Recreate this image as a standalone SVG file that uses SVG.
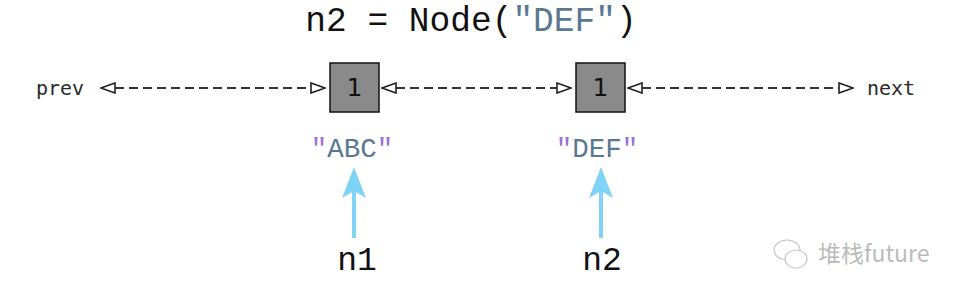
<svg xmlns="http://www.w3.org/2000/svg" width="964" height="298" viewBox="0 0 964 298">
<defs>
<style>
.mono{font-family:"Liberation Mono","Courier New",monospace}
.smono{font-family:"DejaVu Sans Mono",monospace;font-size:20px;fill:#2a2a2a}
.str{fill:#5b7892}
.q{fill:#9a6fd8}
.box{fill:#8a8a8a;stroke:#111;stroke-width:1.5}
.num{font-family:"DejaVu Sans",sans-serif;font-size:25px;fill:#111;text-anchor:middle}
.dash{stroke:#333;stroke-width:2;stroke-dasharray:9 5;fill:none;marker-start:url(#hs);marker-end:url(#he)}
</style>
<marker id="he" viewBox="0 0 16 12" refX="15" refY="6" markerWidth="16" markerHeight="12" markerUnits="userSpaceOnUse" orient="auto">
<path d="M1,1 L15,6 L1,11 Z" fill="#fff" stroke="#222" stroke-width="1.6"/>
</marker>
<marker id="hs" viewBox="0 0 16 12" refX="1" refY="6" markerWidth="16" markerHeight="12" markerUnits="userSpaceOnUse" orient="auto">
<path d="M15,1 L1,6 L15,11 Z" fill="#fff" stroke="#222" stroke-width="1.6"/>
</marker>
</defs>
<rect width="964" height="298" fill="#fff"/>
<g id="title">
<text x="471" y="31" class="mono" font-size="34.5" text-anchor="middle" fill="#111">n2 = Node(<tspan class="str">"DEF"</tspan>)</text>
</g>
<g id="connectors">
<line class="dash" x1="101" y1="88" x2="325" y2="88"/>
<line class="dash" x1="382" y1="88" x2="571" y2="88"/>
<line class="dash" x1="628" y1="88" x2="853" y2="88"/>
<line x1="354" y1="238" x2="354" y2="190" stroke="#7fd3f7" stroke-width="4"/>
<path d="M354,167 L366,198 L354,191 L342,198 Z" fill="#7fd3f7"/>
<line x1="601" y1="238" x2="601" y2="190" stroke="#7fd3f7" stroke-width="4"/>
<path d="M601,167 L613,198 L601,191 L589,198 Z" fill="#7fd3f7"/>
</g>
<g id="prev"><text x="36" y="95" class="smono">prev</text></g>
<g id="next"><text x="867" y="95" class="smono">next</text></g>
<g id="node1">
<rect class="box" x="330" y="63" width="49" height="49"/>
<text x="354.5" y="96" class="num">1</text>
</g>
<g id="node2">
<rect class="box" x="576" y="63" width="49" height="49"/>
<text x="600.5" y="96" class="num">1</text>
</g>
<g id="abc"><text x="352" y="157" class="mono str" font-size="27.5" text-anchor="middle"><tspan class="q">"</tspan>ABC<tspan class="q">"</tspan></text></g>
<g id="def"><text x="597" y="157" class="mono str" font-size="27.5" text-anchor="middle"><tspan class="q">"</tspan>DEF<tspan class="q">"</tspan></text></g>
<g id="n1"><text x="357" y="270" class="mono" font-size="33" text-anchor="middle" fill="#111">n1</text></g>
<g id="n2"><text x="602" y="270" class="mono" font-size="33" text-anchor="middle" fill="#111">n2</text></g>
<g id="watermark" fill="none" stroke="#c4c4c4" stroke-width="1.2">
<ellipse cx="787" cy="250" rx="13" ry="10"/>
<ellipse cx="796" cy="259" rx="11" ry="9" fill="#fff"/>
<text x="818" y="262" font-family="Noto Sans CJK SC, sans-serif" font-size="23" fill="#bbb" stroke="none">堆栈future</text>
</g>
</svg>
